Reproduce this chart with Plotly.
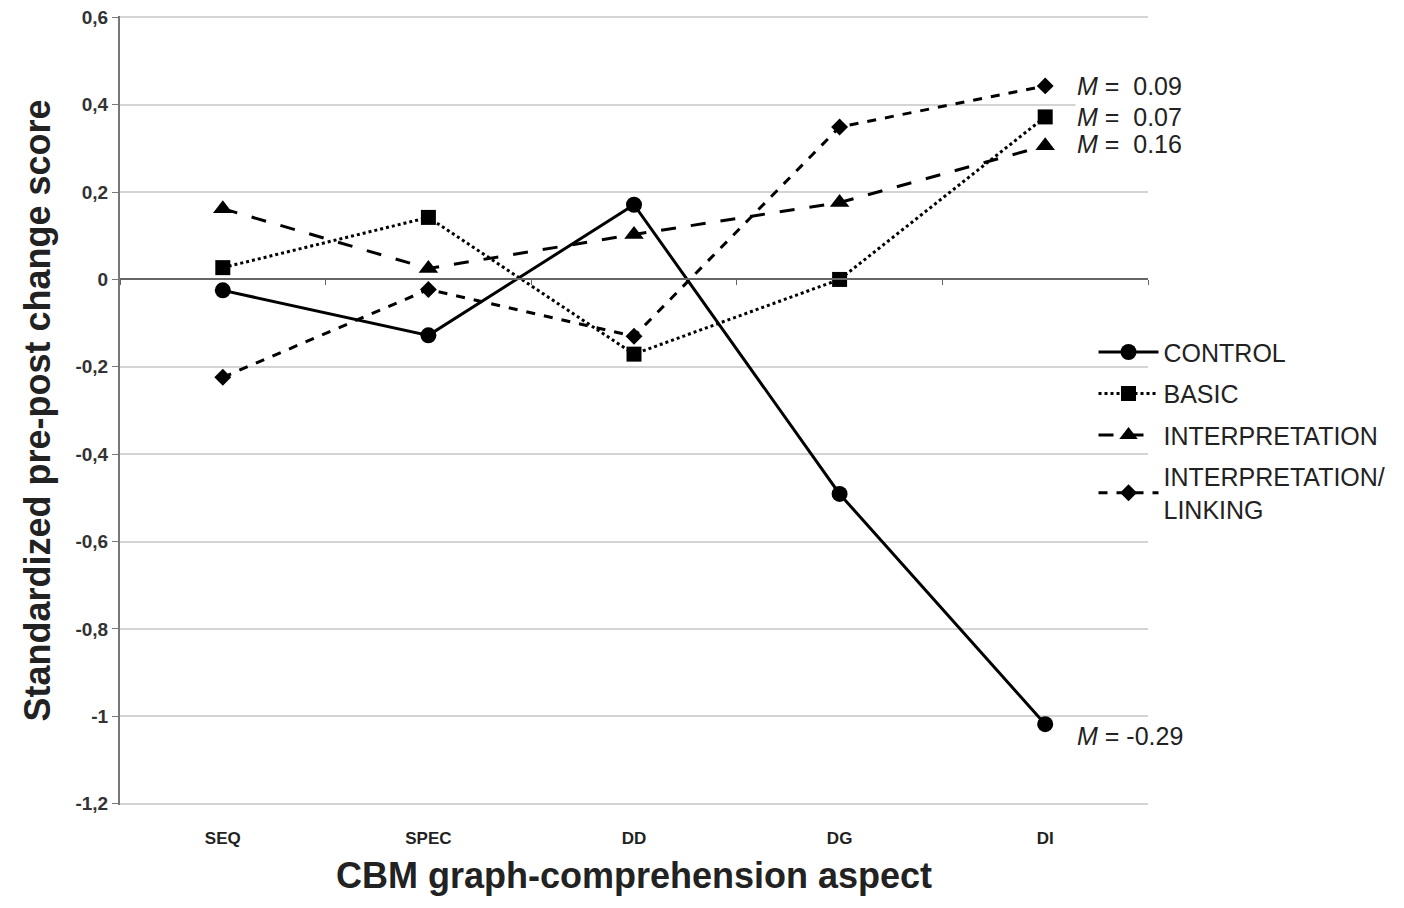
import plotly.graph_objects as go

# data
aspects = ["SEQ", "SPEC", "DD", "DG", "DI"]
groups = ["CONTROL", "BASIC", "INTERPRETATION", "INTERPRETATION/<br>LINKING"]
control = [-0.025, -0.128, 0.171, -0.491, -1.018]
basic = [0.027, 0.142, -0.171, 0.0, 0.372]
interpretation = [0.162, 0.025, 0.103, 0.176, 0.306]
interp_linking = [-0.224, -0.023, -0.130, 0.349, 0.443]
means = ["-0.29", " 0.07", " 0.16", " 0.09"]

y_ticks = [-1.2, -1.0, -0.8, -0.6, -0.4, -0.2, 0, 0.2, 0.4, 0.6]
y_tick_text = ["-1,2", "-1", "-0,8", "-0,6", "-0,4", "-0,2", "0", "0,2", "0,4", "0,6"]
y_range = [-1.203, 0.603]  # tiny pad so the edge gridlines are kept

series = [control, basic, interpretation, interp_linking]
dashes = ["solid", "dot", "longdash", "dash"]
symbols = ["circle", "square", "triangle-up", "diamond"]
sizes = [16, 15, 17, 13]
ann_shift = [-12, 0, 2, 0]

FONT = "Liberation Sans, Arial, sans-serif"

fig = go.Figure()

for i, (name, vals, dash, sym, sz) in enumerate(zip(groups, series, dashes, symbols, sizes)):
    fig.add_trace(go.Scatter(
        x=aspects, y=vals, name=name, legendgroup=f"g{i}",
        mode="lines+markers",
        line=dict(color="black", width=3, dash=dash),
        marker=dict(symbol=sym, size=sz, color="black"),
    ))

# helper trace so the zero-line axis with band ticks gets drawn
fig.add_trace(go.Scatter(x=[None], y=[None], xaxis="x2", yaxis="y",
                         showlegend=False, hoverinfo="skip"))

for vals, m, ys in zip(series, means, ann_shift):
    fig.add_annotation(
        x=aspects[-1], y=vals[-1], text=f"<i>M</i> = {m}",
        showarrow=False, xanchor="left", xshift=30, yshift=ys,
        font=dict(family=FONT, size=25, color="#222"),
        bgcolor="white", borderpad=1,
    )

zero_pos = (0 - y_range[0]) / (y_range[1] - y_range[0])

# the page body adds an 8px offset, so margins are reduced to make up for it
fig.update_layout(
    width=1404, height=908,
    margin=dict(l=112, r=264, t=8, b=111, autoexpand=False),
    plot_bgcolor="white", paper_bgcolor="white",
    font=dict(family=FONT, color="#222"),
    xaxis=dict(
        type="category", range=[-0.5, 4.5], automargin=False,
        showgrid=False, showline=False, zeroline=False, ticks="",
        tickfont=dict(size=17, weight="bold", color="#222"),
        ticklabelstandoff=21,
        title=dict(text="<b>CBM graph-comprehension aspect</b>",
                   font=dict(size=36, color="#222"), standoff=15),
    ),
    xaxis2=dict(
        overlaying="x", anchor="free", position=zero_pos, automargin=False,
        range=[-0.5, 4.5], tickmode="array", tickvals=[-0.5, 0.5, 1.5, 2.5, 3.5, 4.5],
        showticklabels=False, ticks="outside", ticklen=5, tickcolor="#666",
        showline=True, linecolor="#666", linewidth=2, showgrid=False, zeroline=False,
    ),
    yaxis=dict(
        range=y_range, tickmode="array", tickvals=y_ticks, ticktext=y_tick_text,
        automargin=False, ticklabeloverflow="allow",
        showgrid=True, gridcolor="#d4d4d4", gridwidth=2,
        zeroline=False,
        showline=True, linecolor="#777", linewidth=2,
        ticks="outside", ticklen=6, tickcolor="#777",
        tickfont=dict(size=19, weight="bold", color="#333"),
        title=dict(text="<b>Standardized pre-post change score</b>",
                   font=dict(size=36, color="#222"), standoff=14),
    ),
    legend=dict(
        x=0.947, y=0.603, xanchor="left", yanchor="top",
        bgcolor="rgba(0,0,0,0)",
        font=dict(family=FONT, size=25, color="#222"),
        itemwidth=60, tracegroupgap=6,
    ),
    showlegend=True,
)

fig.write_html("out.html")
